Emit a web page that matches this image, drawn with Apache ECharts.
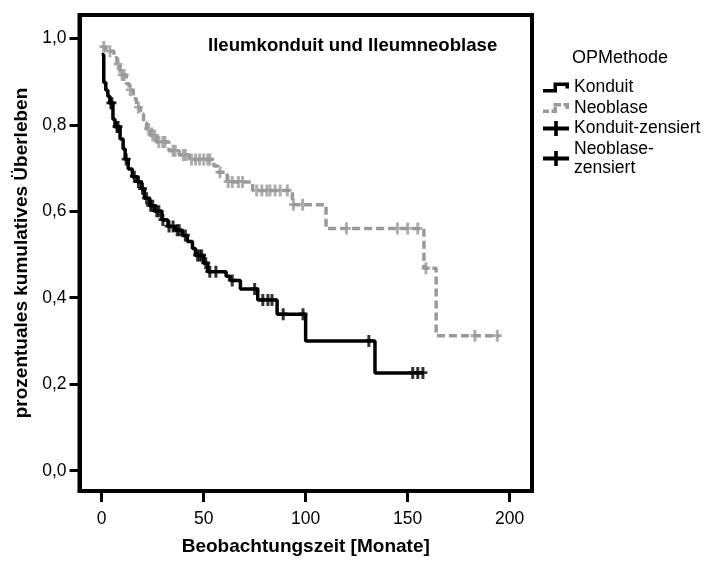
<!DOCTYPE html>
<html>
<head>
<meta charset="utf-8">
<script src="https://cdn.jsdelivr.net/npm/echarts@6/dist/echarts.min.js"></script>
<style>
  html, body { margin: 0; padding: 0; background: #fff; }
  #chart { width: 708px; height: 561px; }
</style>
</head>
<body>
<div id="chart"></div>
<script>
// Kaplan-Meier estimates: step times (months) and cumulative survival after each step
const konduitTimes = [0, 1, 2, 3, 4, 5.5, 6.5, 9, 10.5, 11.5, 13, 15, 17.5, 19.5, 21, 23.5, 26, 29.5, 32.5, 36, 39.5, 42, 44.5, 46, 50, 52, 61, 63, 68, 76.5, 86, 100, 134, 158];
const konduitSurv  = [0.962, 0.898, 0.88, 0.866, 0.85, 0.813, 0.795, 0.767, 0.744, 0.72, 0.698, 0.68, 0.668, 0.652, 0.63, 0.613, 0.6, 0.58, 0.565, 0.556, 0.544, 0.53, 0.514, 0.498, 0.48, 0.46, 0.45, 0.44, 0.42, 0.395, 0.362, 0.30, 0.226, 0.226];
const konduitCensored = [4.5, 5, 7.5, 8, 12, 16, 18, 20, 22, 24, 25, 27, 28, 30, 33, 35, 37, 38, 41, 47, 48, 49, 51, 53, 56, 64, 75, 79, 81.5, 83.5, 89, 98.7, 131, 152.5, 155, 157.5];

const neoTimes = [0, 2, 6, 7.5, 9, 12, 13.5, 15.5, 17, 19, 20.5, 22, 24, 27, 33, 38, 43, 55, 57, 61.5, 74, 93.5, 110, 158, 164, 195];
const neoSurv  = [0.98, 0.97, 0.955, 0.94, 0.915, 0.895, 0.88, 0.86, 0.84, 0.825, 0.805, 0.79, 0.775, 0.76, 0.74, 0.73, 0.72, 0.705, 0.69, 0.668, 0.648, 0.615, 0.56, 0.468, 0.312, 0.312];
const neoCensored = [1, 4, 8, 10, 11, 14, 18, 23, 25, 26, 28, 30, 31, 35, 36, 40, 41, 44, 46, 48, 50, 52, 53, 58, 62, 64, 67, 69, 76, 78.5, 81, 82.5, 85, 87.5, 91, 94, 98.5, 120, 145, 150, 155, 159, 183, 194];

const xTicks = [0, 50, 100, 150, 200];
const yTicks = [0, 0.2, 0.4, 0.6, 0.8, 1.0];

const FONT = '"Liberation Sans", Arial, sans-serif';
const GREY = '#9a9a9a';

// survival value of a step curve at time t
function survivalAt(times, surv, t) {
  let v = surv[0];
  for (let i = 0; i < times.length; i++) {
    if (times[i] <= t) v = surv[i]; else break;
  }
  return v;
}
const stepData = (times, surv) => times.map((t, i) => [t, surv[i]]);
const censorData = (cens, times, surv) => cens.map(t => [t, survivalAt(times, surv, t)]);

const PLUS = 'path://M3,0 L6,0 L6,4 L9,4 L9,6.5 L6,6.5 L6,11 L3,11 L3,6.5 L0,6.5 L0,4 L3,4 Z';
const ICON_KONDUIT = 'path://M0,6.5 L10.5,6.5 L10.5,0 L26,0 L26,6 L22.5,6 L22.5,3.5 L14,3.5 L14,10 L0,10 Z';
const ICON_NEO = 'path://M0,6.5 L6,6.5 L6,10 L0,10 Z M8.5,6.5 L10.5,6.5 L10.5,4 L14,4 L14,10 L8.5,10 Z M10.5,0 L18,0 L18,3.5 L10.5,3.5 Z M20.5,0 L26,0 L26,6 L22.5,6 L22.5,3.5 L20.5,3.5 Z';
const ICON_PLUS = 'path://M0,5.6 L11.2,5.6 L11.2,0 L14.8,0 L14.8,5.6 L26,5.6 L26,9.4 L14.8,9.4 L14.8,15 L11.2,15 L11.2,9.4 L0,9.4 Z';

const chart = echarts.init(document.getElementById('chart'), null, { renderer: 'canvas' });

chart.setOption({
  animation: false,
  backgroundColor: '#fff',
  textStyle: { fontFamily: FONT },
  title: [
    {
      text: 'Ileumkonduit und Ileumneoblase',
      left: 208, top: 36, padding: 0,
      textStyle: { fontFamily: FONT, fontSize: 18.6, fontWeight: 'bold', color: '#000' }
    },
    {
      text: 'OPMethode',
      left: 572, top: 49, padding: 0,
      textStyle: { fontFamily: FONT, fontSize: 18, fontWeight: 'normal', color: '#000' }
    }
  ],
  legend: {
    orient: 'vertical',
    left: 543, top: 78, padding: 0,
    itemWidth: 26, itemHeight: 15, itemGap: 1.5,
    symbolKeepAspect: true,
    selectedMode: false,
    textStyle: { fontFamily: FONT, fontSize: 17.5, color: '#000', lineHeight: 19 },
    itemStyle: { borderWidth: 0, opacity: 1 },
    data: [
      { name: 'Konduit', icon: ICON_KONDUIT, itemStyle: { color: '#000', borderWidth: 0 } },
      { name: 'Neoblase', icon: ICON_NEO, itemStyle: { color: GREY, borderWidth: 0 } },
      { name: 'Konduit-zensiert', icon: ICON_PLUS, itemStyle: { color: '#000', borderWidth: 0 } },
      { name: 'Neoblase-\nzensiert', icon: ICON_PLUS, itemStyle: { color: '#000', borderWidth: 0 } }
    ]
  },
  grid: {
    left: 79.5, top: 15, width: 452.5, height: 479.5,
    show: true, borderColor: '#000', borderWidth: 4, backgroundColor: 'transparent'
  },
  xAxis: {
    type: 'value',
    min: -10.9, max: 211,
    name: 'Beobachtungszeit [Monate]',
    nameLocation: 'middle', nameGap: 46,
    nameTextStyle: { fontFamily: FONT, fontSize: 19, fontWeight: 'bold', color: '#000' },
    axisLine: { show: true, onZero: false, lineStyle: { color: '#000', width: 4 } },
    splitLine: { show: false },
    axisTick: { show: true, inside: false, length: 11, lineStyle: { color: '#000', width: 3 }, customValues: xTicks },
    axisLabel: { customValues: xTicks, margin: 19, fontFamily: FONT, fontSize: 17.5, color: '#000' }
  },
  yAxis: {
    type: 'value',
    min: -0.047, max: 1.054,
    name: 'prozentuales kumulatives Überleben',
    nameLocation: 'middle', nameGap: 43, nameRotate: 90,
    nameTextStyle: { fontFamily: FONT, fontSize: 19, fontWeight: 'bold', color: '#000' },
    axisLine: { show: true, onZero: false, lineStyle: { color: '#000', width: 4 } },
    splitLine: { show: false },
    axisTick: { show: true, inside: false, length: 10, lineStyle: { color: '#000', width: 3 }, customValues: yTicks },
    axisLabel: {
      customValues: yTicks, margin: 13, fontFamily: FONT, fontSize: 17.5, color: '#000',
      formatter: v => v.toFixed(1).replace('.', ',')
    }
  },
  series: [
    {
      name: 'Konduit', type: 'line', step: 'end',
      data: stepData(konduitTimes, konduitSurv),
      showSymbol: false, symbol: 'none',
      lineStyle: { color: '#000', width: 3.5 },
      itemStyle: { color: '#000' },
      z: 3
    },
    {
      name: 'Neoblase', type: 'line', step: 'end',
      data: stepData(neoTimes, neoSurv),
      showSymbol: false, symbol: 'none',
      lineStyle: { color: GREY, width: 3.5, type: [8, 4] },
      itemStyle: { color: GREY },
      z: 2
    },
    {
      name: 'Konduit-zensiert', type: 'scatter',
      data: censorData(konduitCensored, konduitTimes, konduitSurv),
      symbol: PLUS, symbolSize: [9, 12], symbolKeepAspect: false,
      itemStyle: { color: '#000', borderWidth: 0 },
      z: 4
    },
    {
      name: 'Neoblase-\nzensiert', type: 'scatter',
      data: censorData(neoCensored, neoTimes, neoSurv),
      symbol: PLUS, symbolSize: [9, 12], symbolKeepAspect: false,
      itemStyle: { color: GREY, borderWidth: 0 },
      z: 2
    }
  ]
});
</script>
</body>
</html>
